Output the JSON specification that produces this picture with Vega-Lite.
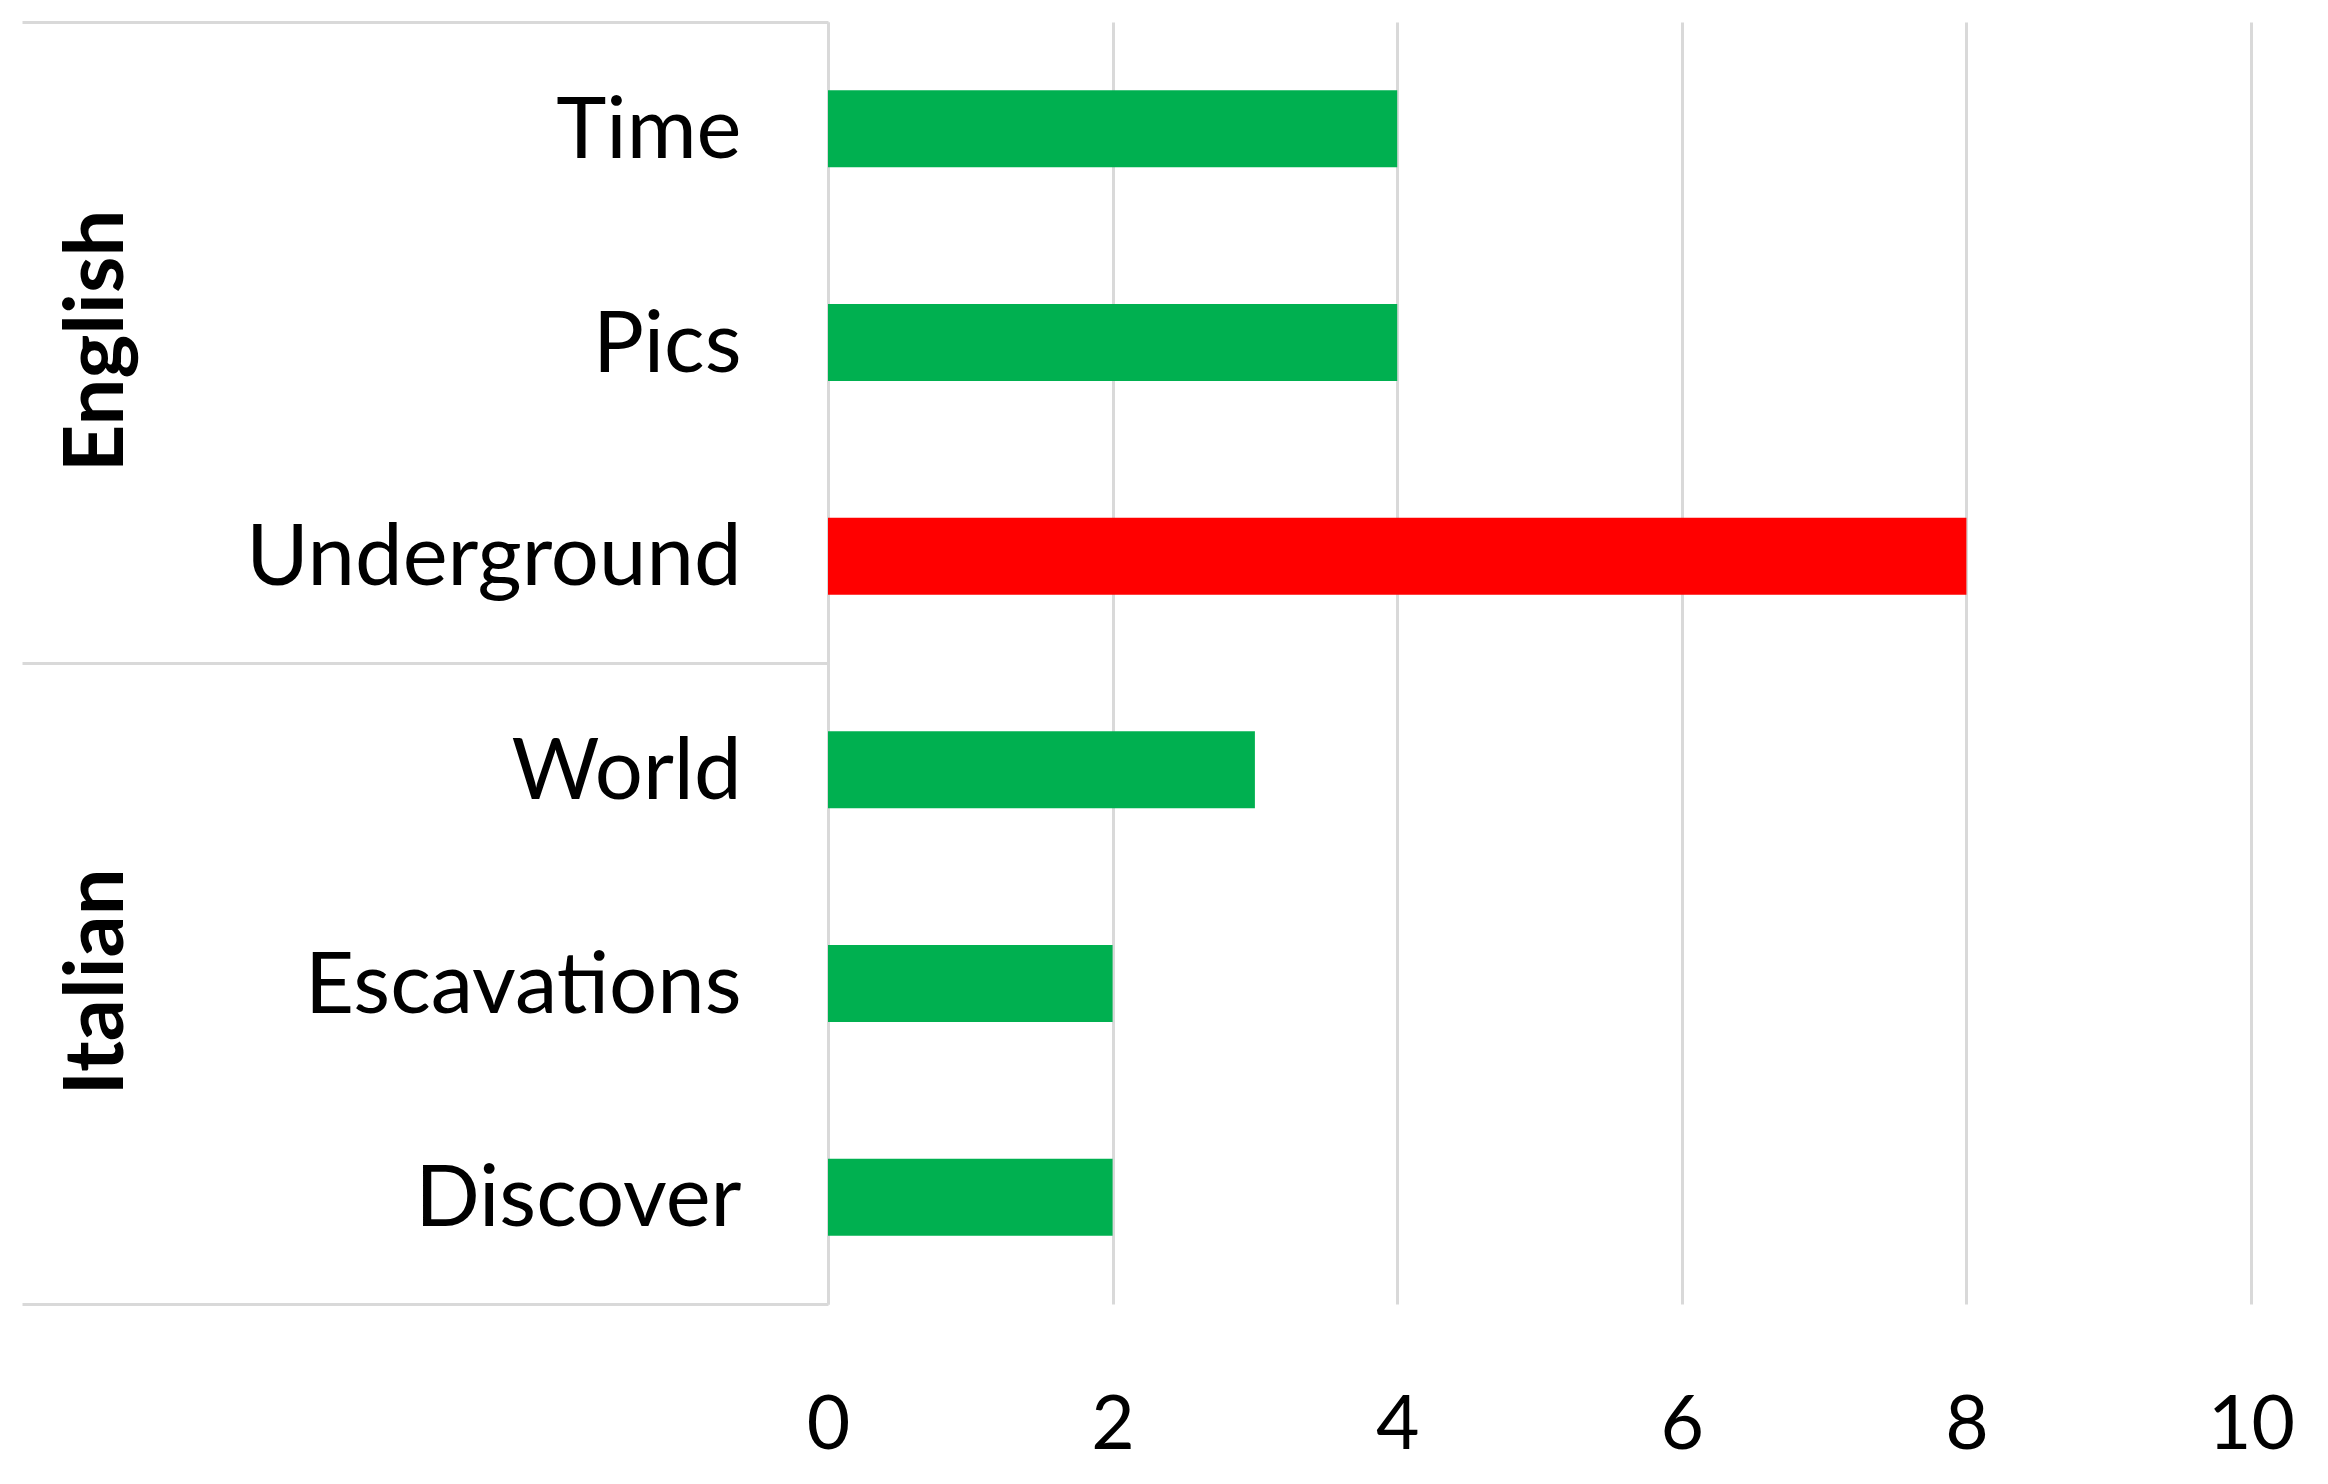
{
  "$schema": "https://vega.github.io/schema/vega-lite/v6.json",
  "width": 1423,
  "height": 1282,
  "autosize": {"type": "none"},
  "padding": {"left": 828, "top": 22, "right": 77, "bottom": 180},
  "background": "white",
  "config": {"view": {"stroke": null}, "font": "Lato"},
  "data": {
    "values": [
      {"Language": "English", "Word": "Time", "Count": 4},
      {"Language": "English", "Word": "Pics", "Count": 4},
      {"Language": "English", "Word": "Underground", "Count": 8},
      {"Language": "Italian", "Word": "World", "Count": 3},
      {"Language": "Italian", "Word": "Escavations", "Count": 2},
      {"Language": "Italian", "Word": "Discover", "Count": 2}
    ]
  },
  "layer": [
    {
      "mark": {"type": "bar"},
      "encoding": {
        "y": {
          "field": "Word",
          "type": "nominal",
          "sort": null,
          "scale": {"paddingInner": 0.64, "paddingOuter": 0.32},
          "axis": {
            "title": null,
            "ticks": false,
            "domainColor": "#d9d9d9",
            "domainWidth": 3,
            "labelFontSize": 85,
            "labelFont": "Lato",
            "labelColor": "#000000",
            "labelPadding": 87,
            "labelOffset": 3,
            "labelLimit": 1000
          }
        },
        "x": {
          "field": "Count",
          "type": "quantitative",
          "scale": {"domain": [0, 10]},
          "axis": {
            "title": null,
            "values": [0, 2, 4, 6, 8, 10],
            "grid": true,
            "gridColor": "#d9d9d9",
            "gridWidth": 3,
            "domain": false,
            "ticks": false,
            "labelFontSize": 75,
            "labelFont": "Lato",
            "labelColor": "#000000",
            "labelPadding": 85,
            "labelFlush": false
          }
        },
        "color": {
          "condition": {"test": "datum.Word === 'Underground'", "value": "#FF0000"},
          "value": "#00B050"
        }
      }
    },
    {
      "mark": {"type": "point", "opacity": 0},
      "encoding": {
        "y": {
          "field": "Language",
          "type": "nominal",
          "sort": null,
          "scale": {"type": "band", "paddingInner": 0, "paddingOuter": 0},
          "axis": {
            "orient": "left",
            "title": null,
            "domain": false,
            "tickBand": "extent",
            "tickSize": 806,
            "tickColor": "#d9d9d9",
            "tickWidth": 3,
            "labelAngle": -90,
            "labelAlign": "center",
            "labelBaseline": "middle",
            "labelPadding": -75,
            "labelOffset": -2,
            "labelFontSize": 83,
            "labelFontWeight": "bold",
            "labelFont": "Lato",
            "labelColor": "#000000",
            "labelLimit": 1000
          }
        }
      }
    }
  ],
  "resolve": {"scale": {"y": "independent"}, "axis": {"y": "independent"}}
}
